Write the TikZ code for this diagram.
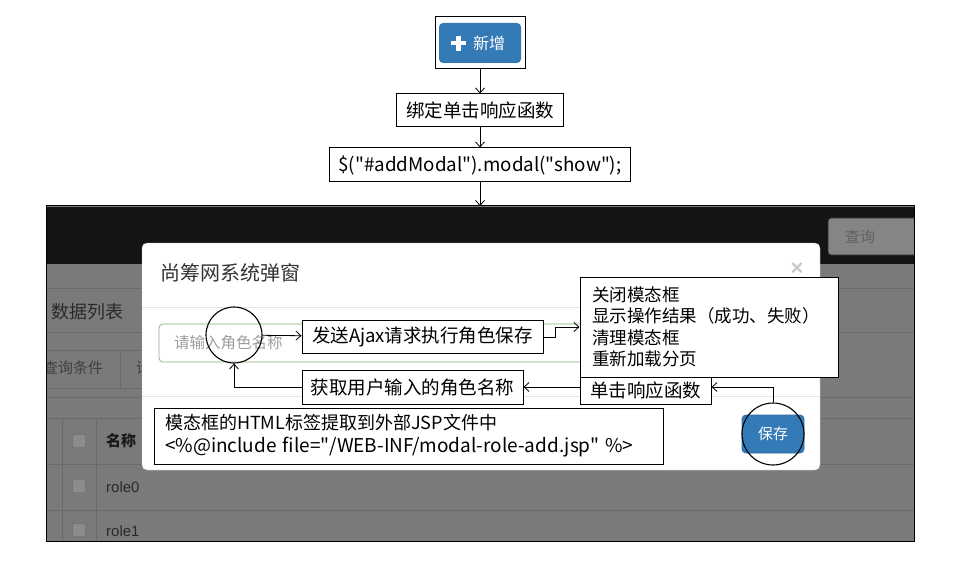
\documentclass[tikz,border=0pt]{standalone}
\usepackage{fontspec}
\setmainfont{Noto Sans CJK SC}
\newfontfamily\cjk{Noto Sans CJK SC}
\newfontfamily\arialf{Liberation Sans}
\usetikzlibrary{arrows.meta,shadows}
\definecolor{bsblue}{HTML}{337AB7}
\definecolor{bsblueb}{HTML}{2E6DA4}
\definecolor{bgray}{HTML}{7A7A7A}
\definecolor{lgray}{HTML}{6A6A6A}
\definecolor{hdr}{HTML}{141414}
\definecolor{inputb}{HTML}{8DB285}
\definecolor{qgray}{HTML}{858585}
\definecolor{dtxt}{HTML}{2A2A2A}
\tikzset{
  note/.style={draw=black, line width=1pt, fill=white, inner sep=0pt, font=\cjk\fontsize{18.5}{21}\selectfont},
  arr/.style={draw=black, line width=0.8pt, -{Straight Barb[length=5pt,width=9pt]}},
  ring/.style={draw=black, line width=1.1pt, circle, inner sep=0pt},
  bgline/.style={draw=lgray, line width=0.8pt},
  chk/.style={draw=black!60, fill=black!45, rounded corners=2pt, minimum size=13pt, inner sep=0pt},
  bgtext/.style={anchor=west, inner sep=0pt, text=dtxt},
}
\begin{document}
\begin{tikzpicture}[x=1pt,y=-1pt]
\useasboundingbox (0,0) rectangle (957,585);
\fill[white] (0,0) rectangle (957,585);

% ---------- screenshot background ----------
\begin{scope}
\clip (46,206) rectangle (914,541);
\fill[bgray] (46,206) rectangle (914,541);
\fill[hdr] (46,207) rectangle (914,264);
\draw[fill=qgray, draw=black!85, line width=0.8pt, rounded corners=3pt] (828,218) rectangle (930,255);
\node[font=\fontsize{15}{15}\selectfont, text=black!62] (qbtn) at (860,236.5) {查询};
\foreach \yy in {288,332,397,418,464,510} \draw[bgline] (46,\yy) -- (914,\yy);
\draw[bgline] (46,350) -- (142,350);
\draw[bgline] (46,388) -- (142,388);
\draw[bgline] (120,350) -- (120,388);
\draw[bgline] (62,418) -- (62,541);
\draw[bgline] (96,418) -- (96,541);
\node[bgtext, font=\fontsize{18}{18}\selectfont] (dlist) at (51,312) {数据列表};
\node[bgtext, font=\fontsize{15}{15}\selectfont, text=black!75] (qcond) at (43,368) {查询条件};
\node[bgtext, font=\fontsize{15}{15}\selectfont, text=black!75] (qcond2) at (136,368) {请};
\node[chk] (c0) at (79,441) {};
\node[chk] (c1) at (79,486) {};
\node[chk] (c2) at (79,530) {};
\node[bgtext, font=\bfseries\fontsize{15}{15}\selectfont, text=black!90] (thname) at (106,441) {名称};
\node[bgtext, font=\arialf\fontsize{15}{15}\selectfont] (r0) at (106,487) {role0};
\node[bgtext, font=\arialf\fontsize{15}{15}\selectfont] (r1) at (106,531) {role1};
\end{scope}

% ---------- modal ----------
\draw[fill=white, draw=black!25, rounded corners=5pt, drop shadow={opacity=0.35, shadow xshift=0pt, shadow yshift=-3pt}] (142,243) rectangle (820,470);
\node[anchor=west, inner sep=0pt, text=black!80, font=\fontsize{20}{20}\selectfont] (mtitle) at (160,273) {尚筹网系统弹窗};
\node[text=black!22, font=\arialf\bfseries\fontsize{22}{22}\selectfont] (mclose) at (797,269) {×};
\draw[black!10, line width=0.8pt] (142,307) -- (820,307);
\draw[black!10, line width=0.8pt] (142,396) -- (820,396);
\draw[inputb, line width=0.8pt, rounded corners=4pt] (159,324) rectangle (800,362);
\node[anchor=west, inner sep=0pt, text=black!38, font=\fontsize{15.5}{15.5}\selectfont] (ph) at (174,343) {请输入角色名称};
\node[fill=bsblue, draw=bsblueb, line width=0.8pt, rounded corners=4pt, minimum width=62pt, minimum height=38pt, text=white, font=\fontsize{15}{15}\selectfont] (savebtn) at (773,434) {保存};

% screenshot border
\draw[black, line width=1pt] (46,206) rectangle (914,541);
\coordinate (scrtop) at (480,206);

% ---------- top flow ----------
\node[draw=black, line width=1pt, fill=white, minimum width=90pt, minimum height=52pt, inner sep=0pt] (addbox) at (480,43) {};
\node[fill=bsblue, rounded corners=4pt, minimum width=82pt, minimum height=40pt, inner sep=0pt] (addbtn) at (480,43) {};
\fill[white] (451,41) rectangle (466,45.5);
\fill[white] (456.25,35.75) rectangle (460.75,50.75);
\node[text=white, font=\fontsize{16}{16}\selectfont, inner sep=0pt] (addtxt) at (489,43) {新增};
\node[note, minimum width=167pt, minimum height=33pt] (bind) at (480,110.5) {绑定单击响应函数};
\node[note, minimum width=301pt, minimum height=34pt] (show) at (480,165) {\fontsize{18.8}{21}\selectfont\$("\#addModal").modal("show");};
\draw[arr] (addbox) -- (bind);
\draw[arr] (bind) -- (show);
\draw[arr] (show) -- (scrtop);

% ---------- annotations ----------
\node[ring, minimum size=56pt] (cin) at (234,335) {};
\node[ring, minimum size=62pt] (csave) at (773,434) {};
\node[note, minimum width=241pt, minimum height=33pt] (ajax) at (422.5,337) {发送Ajax请求执行角色保存};
\node[note, text width=234pt, inner xsep=12pt, minimum height=100pt, align=left, font=\cjk\fontsize{17.5}{21.5}\selectfont] (result) at (709,327) {关闭模态框\\显示操作结果（成功、失败）\\清理模态框\\重新加载分页};
\node[note, minimum width=131pt, minimum height=27pt] (click) at (645.5,390.5) {单击响应函数};
\node[note, minimum width=221pt, minimum height=34pt] (fetch) at (412.5,387) {获取用户输入的角色名称};
\node[note, text width=487pt, inner xsep=11pt, minimum height=56pt, align=left, font=\cjk\fontsize{18}{23}\selectfont] (jsp) at (408.5,436) {模态框的HTML标签提取到外部JSP文件中\\{\fontsize{19}{23}\selectfont <\%@include file="/WEB-INF/modal-role-add.jsp" \%>}};

\draw[arr] (cin) -- (ajax);
\draw[arr] (ajax.east) -- ++(12,0) |- (result.west);
\draw[arr] (csave.north) |- (click.east |- fetch.east);
\draw[arr] (click.west |- fetch.east) -- (fetch.east);
\draw[arr] (fetch.west) -| (cin.south);
\end{tikzpicture}
\end{document}
